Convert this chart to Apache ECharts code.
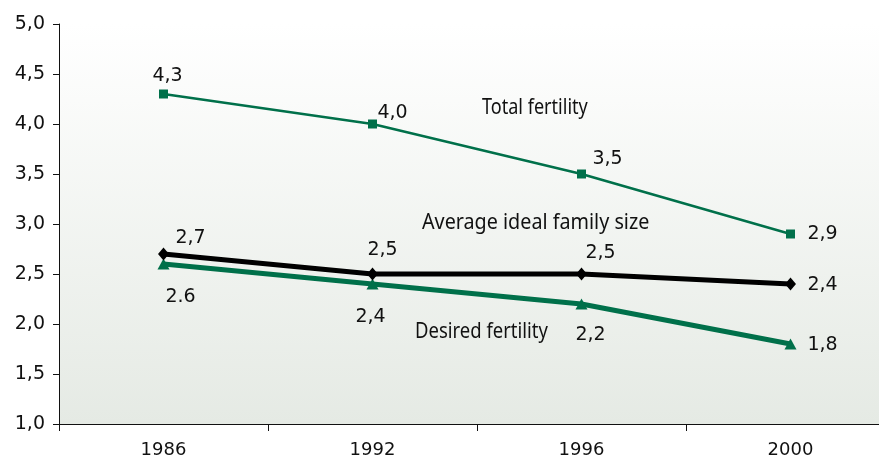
<!DOCTYPE html>
<html><head><meta charset="utf-8">
<script src="https://cdn.jsdelivr.net/npm/echarts@6/dist/echarts.min.js"></script>
<style>html,body{margin:0;padding:0;background:#fff;overflow:hidden}#c{width:895px;height:459px}</style>
</head><body><div id="c"></div>
<script>
var years = ['1986', '1992', '1996', '2000'];
var totalFertility = [4.3, 4.0, 3.5, 2.9];
var idealFamily = [2.7, 2.5, 2.5, 2.4];
var desiredFertility = [2.6, 2.4, 2.2, 1.8];
var totalLabels = ['4,3', '4,0', '3,5', '2,9'];
var idealLabels = ['2,7', '2,5', '2,5', '2,4'];
var desiredLabels = ['2.6', '2,4', '2,2', '1,8'];
var seriesNames = ['Total fertility', 'Average ideal family size', 'Desired fertility'];

var GREEN = '#00704a';
var FONT = 'DejaVu Sans';
var NAMEFONT = 'Noto Sans';

function mk(vals, labels, offsets) {
  return vals.map(function (v, i) {
    return {
      value: v,
      label: { show: true, formatter: labels[i], position: 'inside', offset: offsets[i],
               color: '#111', fontFamily: FONT, fontSize: 19 }
    };
  });
}

function nameText(txt, x, y, sx) {
  return { type: 'text', x: x, y: y, scaleX: sx, z: 10,
    style: { text: txt, x: 0, y: 0, fill: '#111', font: '21px "' + NAMEFONT + '"',
             textAlign: 'left', textVerticalAlign: 'middle', align: 'left', verticalAlign: 'middle' } };
}

var chart = echarts.init(document.getElementById('c'), null, { renderer: 'canvas' });
chart.setOption({
  animation: false,
  grid: {
    left: 59, right: 0, top: 24, bottom: 35,
    show: true, borderWidth: 0,
    backgroundColor: new echarts.graphic.LinearGradient(0, 0, 0, 1, [
      { offset: 0, color: '#ffffff' }, { offset: 1, color: '#e5eae4' }
    ])
  },
  xAxis: {
    type: 'category', data: years, boundaryGap: true,
    axisLine: { lineStyle: { color: '#111', width: 1 } },
    axisTick: { show: true, length: 7, lineStyle: { color: '#111' }, alignWithLabel: false },
    axisLabel: { color: '#111', fontFamily: FONT, fontSize: 18, margin: 17 },
    splitLine: { show: false }
  },
  yAxis: {
    type: 'value', min: 1, max: 5, interval: 0.5,
    axisLine: { show: true, lineStyle: { color: '#111', width: 1 } },
    axisTick: { show: true, length: 6, lineStyle: { color: '#111' } },
    axisLabel: { color: '#111', fontFamily: FONT, fontSize: 19, margin: 14,
      formatter: function (v) { return v.toFixed(1).replace('.', ','); } },
    splitLine: { show: false }
  },
  series: [
    {
      name: seriesNames[0], type: 'line', z: 3,
      data: mk(totalFertility, totalLabels, [[4, -18], [20, -11], [26, -15], [32, 0]]),
      symbol: 'rect', symbolSize: 9,
      lineStyle: { color: GREEN, width: 2.5 }, itemStyle: { color: GREEN }
    },
    {
      name: seriesNames[1], type: 'line', z: 4,
      data: mk(idealFamily, idealLabels, [[27, -16], [10, -24], [19, -21], [32, 1]]),
      symbol: 'diamond', symbolSize: [11, 13],
      lineStyle: { color: '#000', width: 5 }, itemStyle: { color: '#000' }
    },
    {
      name: seriesNames[2], type: 'line', z: 3,
      data: mk(desiredFertility, desiredLabels, [[17, 33], [-2, 33], [9, 31], [32, 1]]),
      symbol: 'triangle', symbolSize: [12, 11],
      lineStyle: { color: GREEN, width: 5 }, itemStyle: { color: GREEN }
    }
  ],
  graphic: [
    nameText(seriesNames[0], 482, 108, 0.86),
    nameText(seriesNames[1], 422, 223, 0.94),
    nameText(seriesNames[2], 415, 332, 0.88)
  ]
});
</script></body></html>
